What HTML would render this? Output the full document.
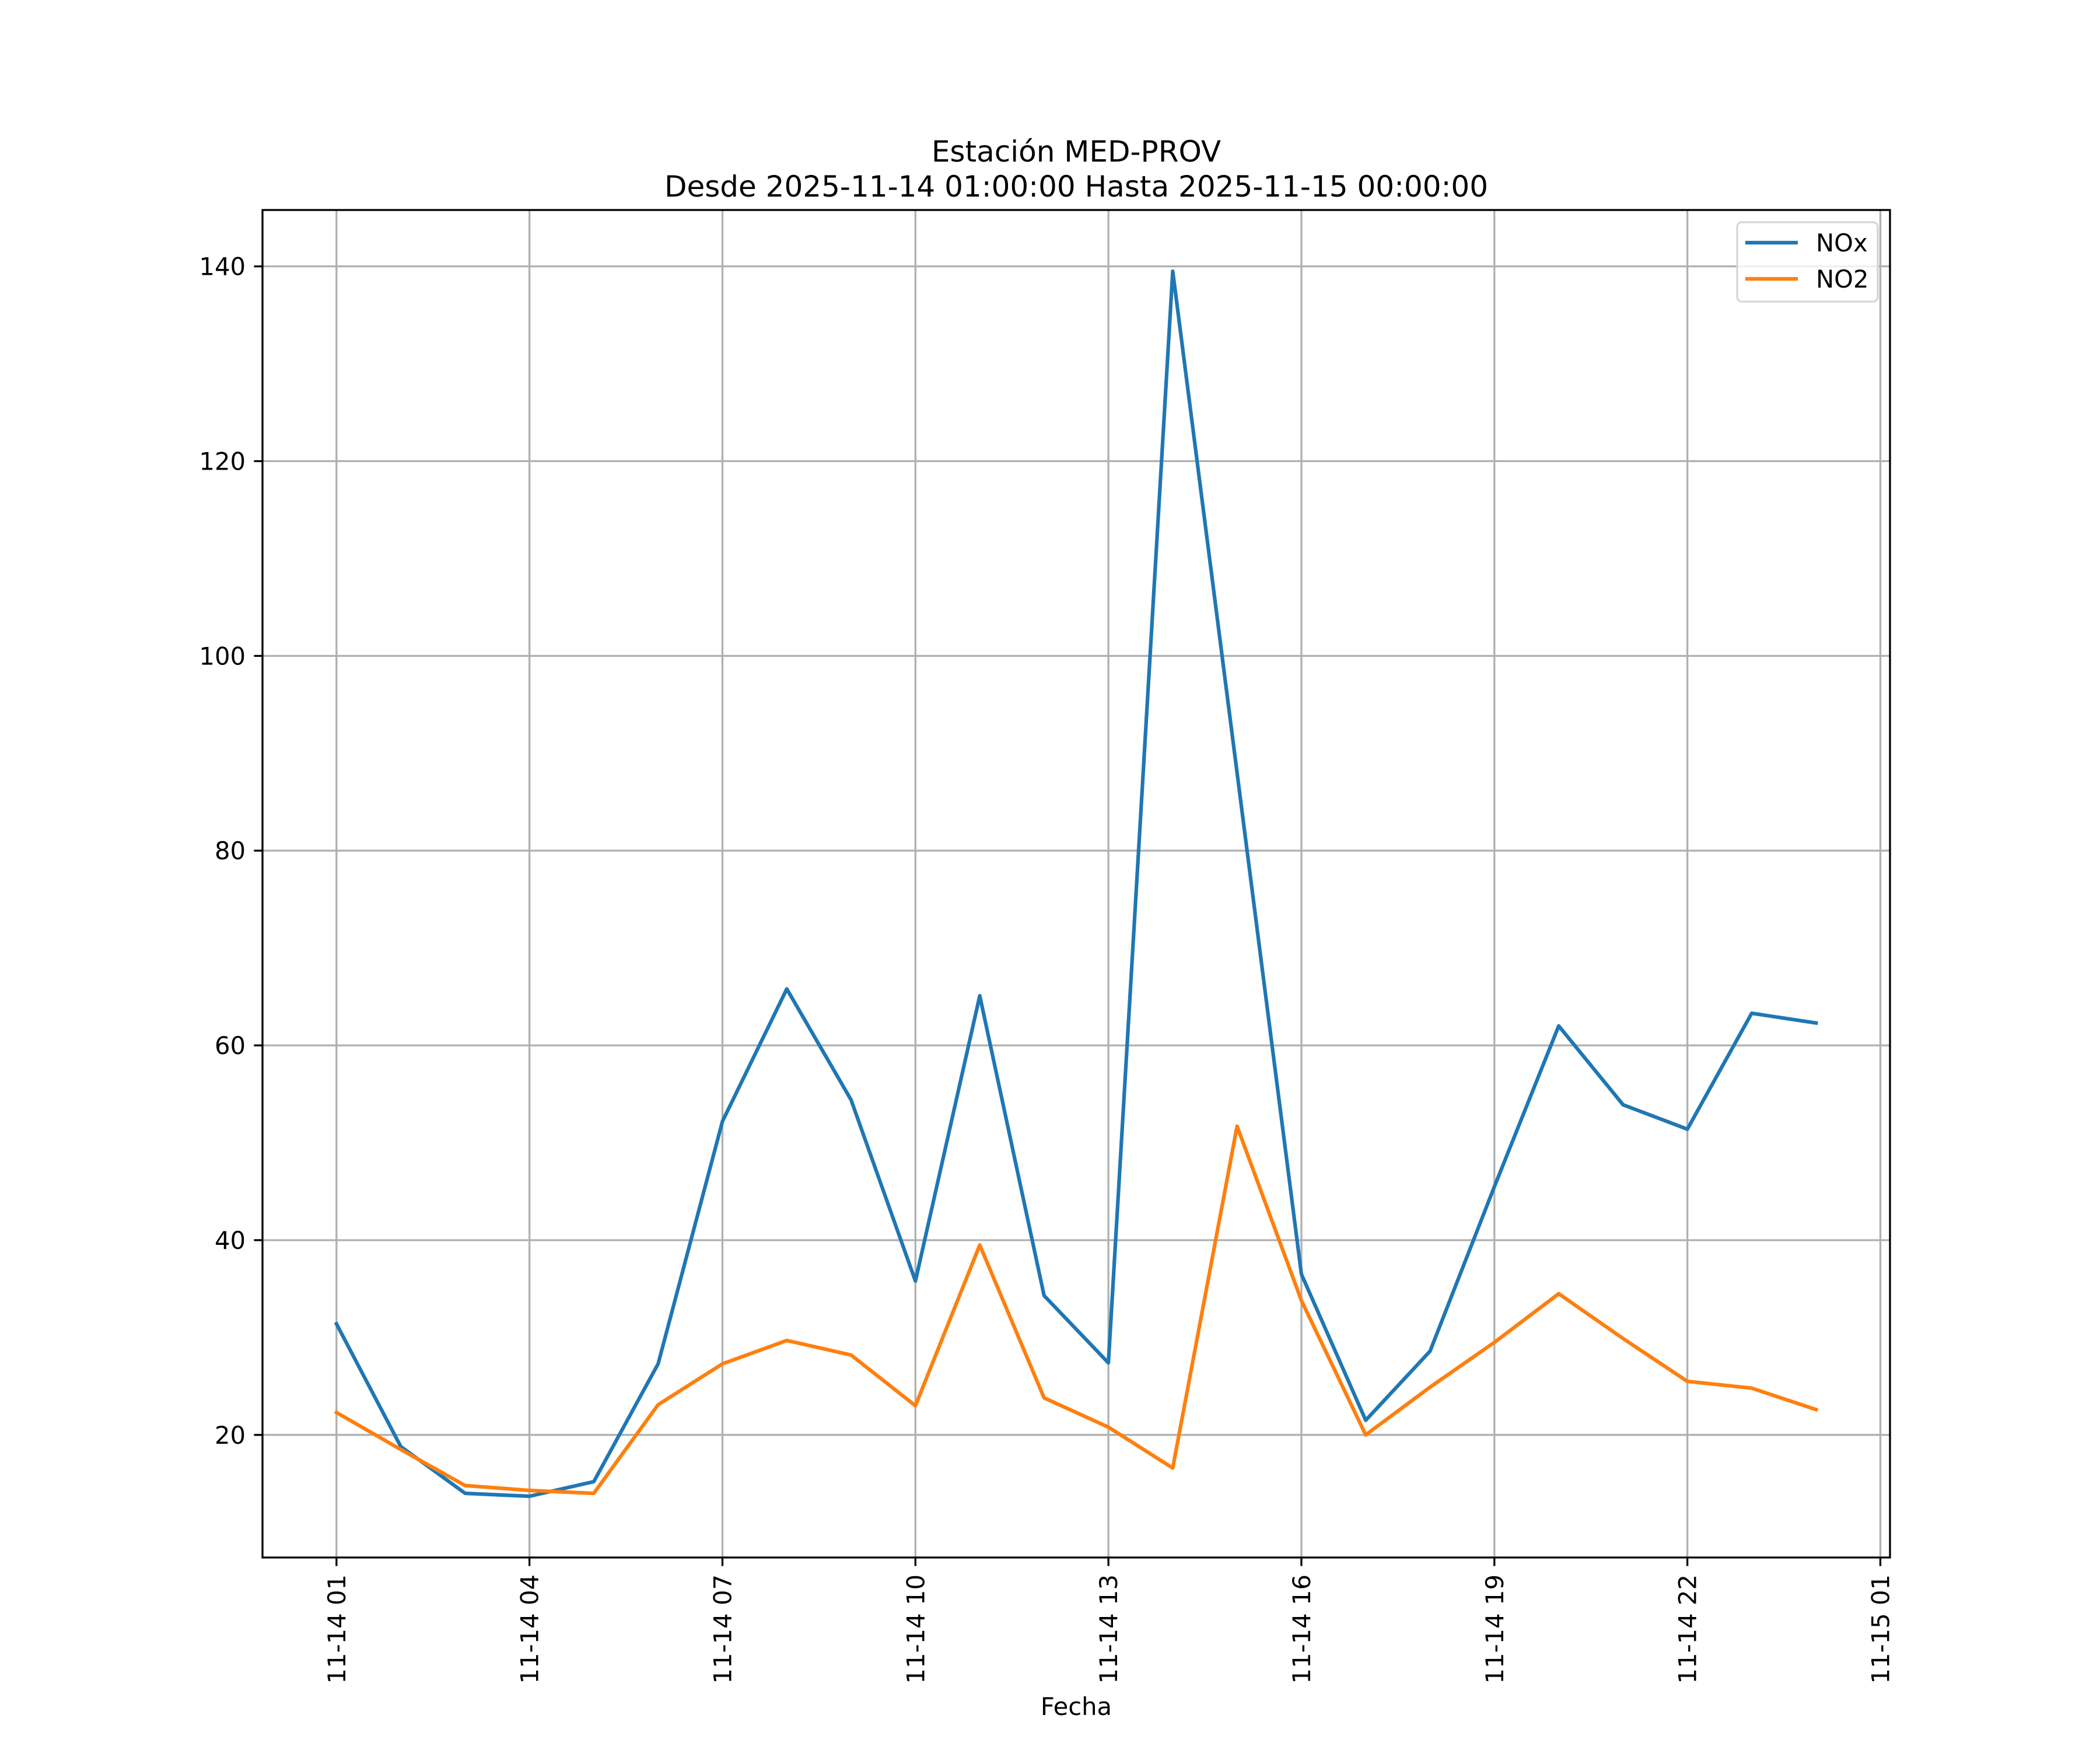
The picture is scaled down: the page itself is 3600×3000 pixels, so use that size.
<!DOCTYPE html>
<html><head><meta charset="utf-8"><style>
html,body{margin:0;padding:0;background:#fff}
svg{display:block;font-family:"DejaVu Sans","Liberation Sans",sans-serif}
</style></head><body>
<svg id="chart" width="3600" height="3000" viewBox="0 0 3600 3000" xmlns="http://www.w3.org/2000/svg">
<rect width="3600" height="3000" fill="#fff"/>
<text x="1845" y="277" font-size="50" text-anchor="middle">Estación MED-PROV</text>
<text x="1845" y="337" font-size="50" text-anchor="middle">Desde 2025-11-14 01:00:00 Hasta 2025-11-15 00:00:00</text>
<g id="grid"></g>
<g id="series"></g>
<rect x="450" y="360" width="2790" height="2310" fill="none" stroke="#000" stroke-width="3.3"/>
<g id="ticks"></g>
<text x="1845" y="2940" font-size="41.7" text-anchor="middle">Fecha</text>
<g>
<rect x="2978" y="381" width="241" height="136" rx="8" fill="#fff" fill-opacity="0.8" stroke="#d6d6d6" stroke-width="3.3"/>
<line x1="2992" y1="416" x2="3082" y2="416" stroke="#1f77b4" stroke-width="6.25"/>
<text x="3113" y="431" font-size="41.7">NOx</text>
<line x1="2992" y1="478" x2="3082" y2="478" stroke="#ff7f0e" stroke-width="6.25"/>
<text x="3113" y="493" font-size="41.7">NO2</text>
</g>
</svg>
<script>
const hours = [1,2,3,4,5,6,7,8,9,10,11,12,13,14,15,16,17,18,19,20,21,22,23,24];
const noxValues = [31.4,18.8,14.0,13.7,15.2,27.3,52.2,65.8,54.4,35.8,65.1,34.3,27.4,139.5,88.0,36.5,21.5,28.6,45.5,62.0,53.9,51.4,63.3,62.3];
const no2Values = [22.3,18.5,14.8,14.3,14.0,23.1,27.3,29.7,28.2,23.0,39.5,23.8,20.8,16.6,51.7,33.8,20.0,24.9,29.5,34.5,29.9,25.5,24.8,22.6];
const yTicks = [20,40,60,80,100,120,140];
const xTickHours = [1,4,7,10,13,16,19,22,25];
const xTickLabels = ["11-14 01","11-14 04","11-14 07","11-14 10","11-14 13","11-14 16","11-14 19","11-14 22","11-15 01"];

const NS="http://www.w3.org/2000/svg";
const L=450,R=3240,T=360,B=2670;
const allV=noxValues.concat(no2Values);
const vmin=Math.min(...allV), vmax=Math.max(...allV), vr=vmax-vmin;
const y0=vmin-0.05*vr, y1=vmax+0.05*vr;
const hmin=Math.min(...hours), hmax=Math.max(...hours), hr=hmax-hmin;
const x0=hmin-0.05*hr, x1=hmax+0.05*hr;
const X=h=>L+(h-x0)/(x1-x0)*(R-L);
const Y=v=>B-(v-y0)/(y1-y0)*(B-T);
function mk(tag,attrs,parent){const e=document.createElementNS(NS,tag);for(const k in attrs)e.setAttribute(k,attrs[k]);parent.appendChild(e);return e;}
const grid=document.getElementById('grid'), ticks=document.getElementById('ticks'), series=document.getElementById('series');
yTicks.forEach(v=>{
  const g=mk('line',{x1:L,x2:R,y1:Y(v),y2:Y(v),stroke:'#b0b0b0','stroke-width':3.3},grid);
  
  
  const t=mk('line',{x1:L-14.6,x2:L,y1:Y(v),y2:Y(v),stroke:'#000','stroke-width':3.3},ticks);
  
  
  const lb=mk('text',{x:L-29,y:Y(v)+15,'font-size':41.7,'text-anchor':'end'},ticks);
  lb.textContent=v;
  
  
});
xTickHours.forEach((h,i)=>{
  const x=X(h);
  const g=mk('line',{x1:x,x2:x,y1:T,y2:B,stroke:'#b0b0b0','stroke-width':3.3},grid);
  
  
  const t=mk('line',{x1:x,x2:x,y1:B,y2:B+14.6,stroke:'#000','stroke-width':3.3},ticks);
  
  
  const lb=mk('text',{x:0,y:0,'font-size':41.7,'text-anchor':'end',transform:`translate(${x+15},${B+29}) rotate(-90)`},ticks);
  lb.textContent=xTickLabels[i];
  
  
});
function line(vals,color,name){
  const pts=vals.map((v,i)=>X(hours[i]).toFixed(1)+','+Y(v).toFixed(1)).join(' ');
  const p=mk('polyline',{points:pts,fill:'none',stroke:color,'stroke-width':6.25,'stroke-linejoin':'round','stroke-linecap':'square'},series);
  
  
}
line(noxValues,'#1f77b4','nox-line');
line(no2Values,'#ff7f0e','no2-line');
</script>
</body></html>
